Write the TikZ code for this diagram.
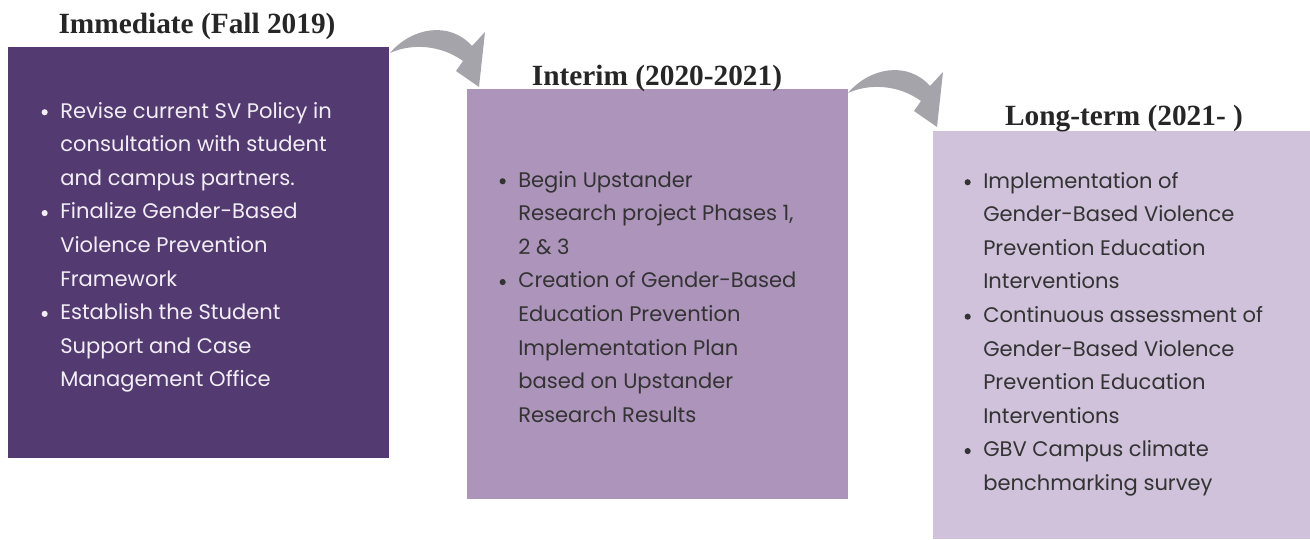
\documentclass[tikz,border=0pt]{standalone}
\usepackage{fontspec}
\setmainfont{Poppins}
\newfontfamily\titlefont{Liberation Serif}
\definecolor{boxA}{HTML}{533A71}
\definecolor{boxB}{HTML}{AD94BA}
\definecolor{boxC}{HTML}{CFC2DA}
\definecolor{txtlight}{HTML}{F2EEF6}
\definecolor{txtdark}{HTML}{333333}
\definecolor{arrowgray}{HTML}{A5A4AA}
\tikzset{
  ptitle/.style={inner sep=0pt, anchor=base, font=\titlefont\bfseries\fontsize{22}{26}\selectfont, text=black!85},
  items/.style={inner sep=0pt, anchor=base west, font=\fontsize{15.8}{25.2}\selectfont},
  bendarrow/.style={fill=arrowgray, draw=none}
}
\newcommand{\bul}{\llap{\raisebox{2.0pt}{\tikz\fill (0,0) circle (2.3pt);}\hspace{9.4pt}}}
\newcommand{\lline}[1]{\hbox{#1}}
\begin{document}
\begin{tikzpicture}[x=0.75pt,y=-0.75pt]
\useasboundingbox (0,0) rectangle (1310,539);
% boxes
\fill[boxA] (8,47) rectangle (389,458);
\fill[boxB] (467,89) rectangle (848,499);
\fill[boxC] (933,131) rectangle (1310,539);
% titles
\node[ptitle] (t1) at (197,33) {Immediate (Fall 2019)};
\node[ptitle] (t2) at (657,85) {Interim (2020-2021)};
\node[ptitle] (t3) at (1124,125) {Long-term (2021- )};
% texts
\node[items, text=txtlight] (i1) at (60,118) {\vtop{%
\lline{\bul Revise current SV Policy in}
\lline{consultation with student}
\lline{and campus partners.}
\lline{\bul Finalize Gender-Based}
\lline{Violence Prevention}
\lline{Framework}
\lline{\bul Establish the Student}
\lline{Support and Case}
\lline{Management Office}}};
\node[items, text=txtdark] (i2) at (518,187) {\vtop{%
\lline{\bul Begin Upstander}
\lline{Research project Phases 1,}
\lline{2 \& 3}
\lline{\bul Creation of Gender-Based}
\lline{Education Prevention}
\lline{Implementation Plan}
\lline{based on Upstander}
\lline{Research Results}}};
\node[items, text=txtdark] (i3) at (983,188) {\vtop{%
\lline{\bul Implementation of}
\lline{Gender-Based Violence}
\lline{Prevention Education}
\lline{Interventions}
\lline{\bul Continuous assessment of}
\lline{Gender-Based Violence}
\lline{Prevention Education}
\lline{Interventions}
\lline{\bul GBV Campus climate}
\lline{benchmarking survey}}};
% curved arrows
\foreach \dx/\dy in {0/0, 458/40}{
  \fill[bendarrow, shift={(\dx,\dy)}]
    (390,53) .. controls (412,27) and (450,21) .. (472,46)
    -- (485,32) -- (479,87) -- (456,71) -- (463,61)
    .. controls (441,45) and (412,43) .. (390,53) -- cycle;
}
\end{tikzpicture}
\end{document}
